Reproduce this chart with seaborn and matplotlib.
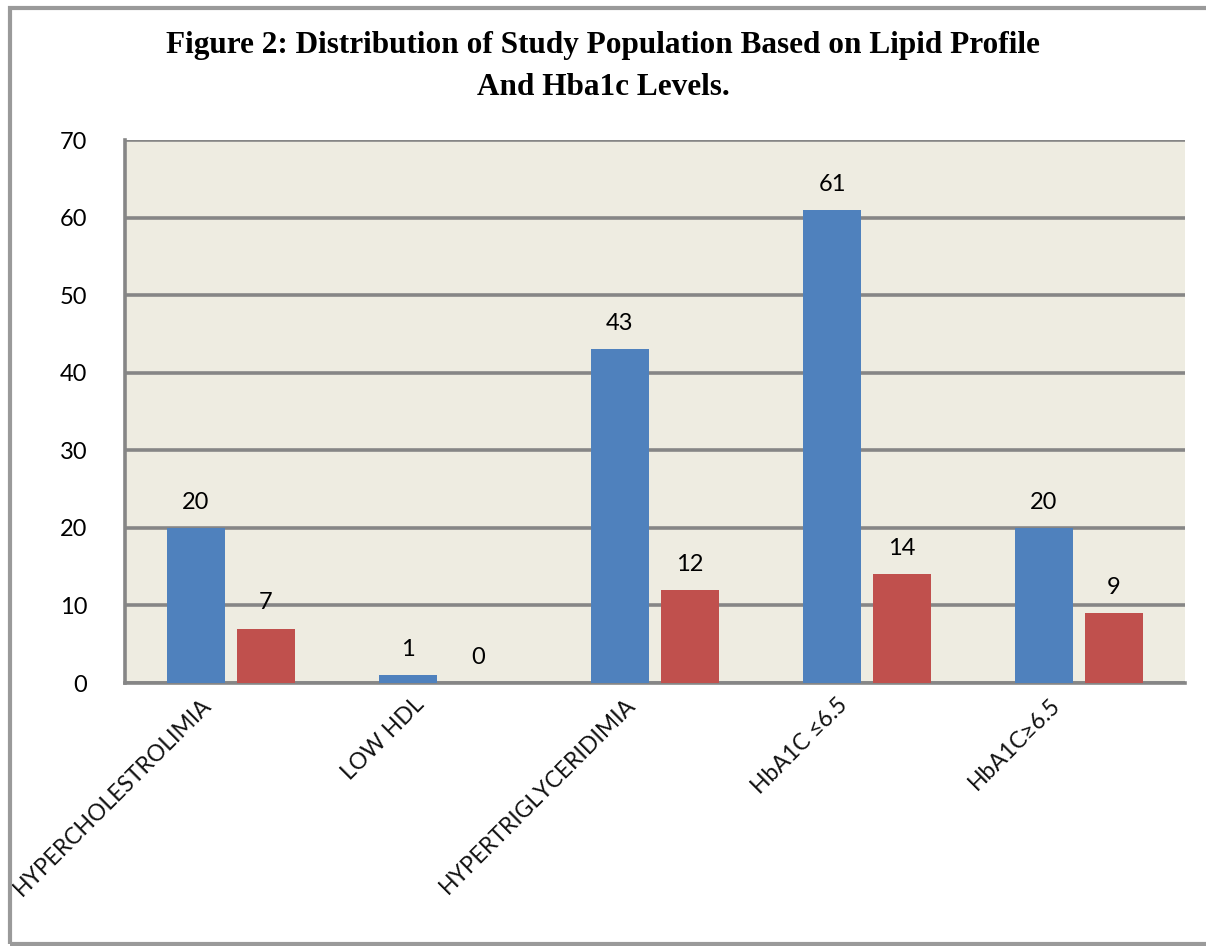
import pandas as pd
import numpy as np
import matplotlib.pyplot as plt
import seaborn as sns
import matplotlib.transforms as mtransforms
from matplotlib.patches import Rectangle

# data
categories = ["HYPERCHOLESTROLIMIA", "LOW HDL", "HYPERTRIGLYCERIDIMIA", "HbA1C ≤6.5", "HbA1C≥6.5"]
series_1 = [20, 1, 43, 61, 20]
series_2 = [7, 0, 12, 14, 9]
yticks = [0, 10, 20, 30, 40, 50, 60, 70]

df = pd.DataFrame({
    "category": categories * 2,
    "value": series_1 + series_2,
    "series": ["Series 1"] * len(categories) + ["Series 2"] * len(categories),
})

sns.set_style("white")
plt.rcParams['font.family'] = ['Lato', 'DejaVu Sans']

fig = plt.figure(figsize=(12.06, 9.46), dpi=100)
ax = fig.add_axes([0.1036, 0.278, 0.8790, 0.574])

ax = sns.barplot(data=df, x="category", y="value", hue="series",
                 palette=["#4F81BD", "#C0504D"], width=0.66, gap=0.18,
                 saturation=1, legend=False, ax=ax, zorder=3, linewidth=0)

for c in ax.containers:
    ax.bar_label(c, padding=11, fontsize=17, color="#000000")

# plot area look (excel style)
ax.set_facecolor("#EEECE1")
ax.set_ylim(0, 70)
ax.set_yticks(yticks)
ax.set_xlim(-0.5, len(categories) - 0.5)
ax.yaxis.grid(True, color="#868686", linewidth=2.6, zorder=1)
ax.set_axisbelow(True)
for s in ["top", "right"]:
    ax.spines[s].set_visible(False)
for s in ["left", "bottom"]:
    ax.spines[s].set_color("#868686")
    ax.spines[s].set_linewidth(2.6)
ax.tick_params(axis="y", length=9, width=2.6, color="#868686", labelsize=17, pad=18,
               labelcolor="black")
ax.tick_params(axis="x", length=0, labelsize=16.5, pad=8, labelcolor="#111111")
shift = mtransforms.ScaledTranslation(-0.3, 0, fig.dpi_scale_trans)
for lbl in ax.get_xticklabels():
    lbl.set_rotation(45)
    lbl.set_ha("right")
    lbl.set_rotation_mode("anchor")
    lbl.set_transform(lbl.get_transform() + shift)
ax.set_xlabel("")
ax.set_ylabel("")

# title
fig.text(0.5, 0.952, "Figure 2: Distribution of Study Population Based on Lipid Profile",
         ha="center", va="center", fontsize=22.5, fontweight="bold", family="Liberation Serif",
         color="black")
fig.text(0.5, 0.907, "And Hba1c Levels.",
         ha="center", va="center", fontsize=22.5, fontweight="bold", family="Liberation Serif",
         color="black")

# outer chart frame
fig.patches.append(Rectangle((0.008, 0.002), 1.2, 0.99, transform=fig.transFigure,
                             fill=False, edgecolor="#9A9A9A", linewidth=3))

fig.savefig("out.png", dpi=100)
